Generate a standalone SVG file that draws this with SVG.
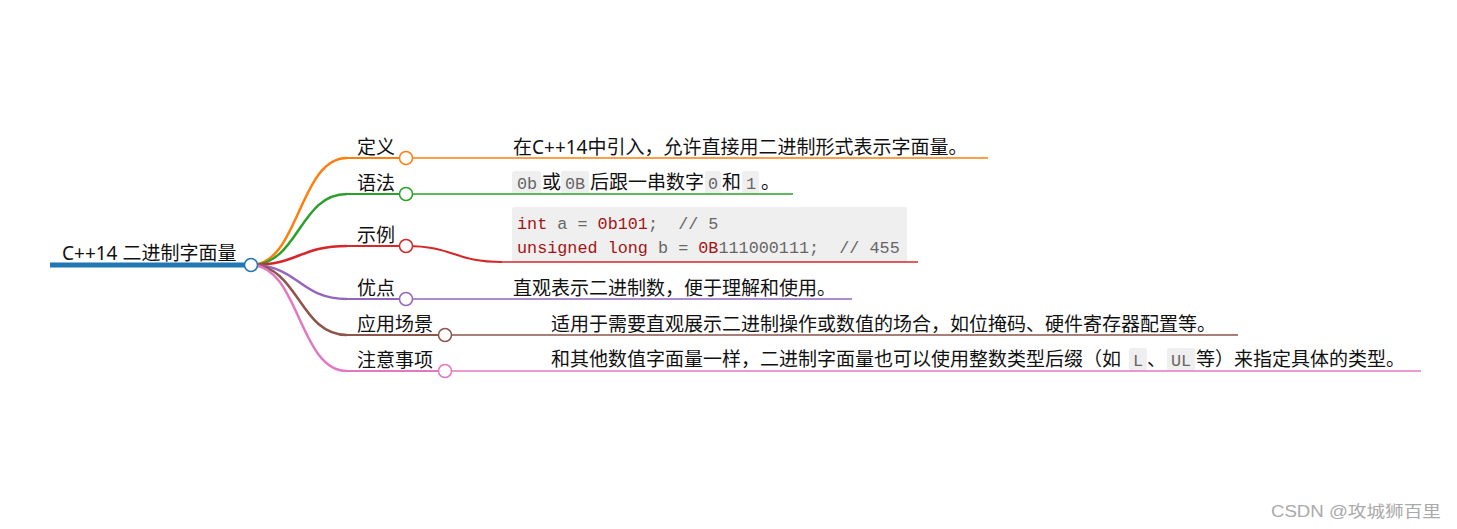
<svg xmlns="http://www.w3.org/2000/svg" width="1457" height="529" viewBox="0 0 1457 529">
<style>
text{font-family:"Noto Sans","Noto Sans CJK SC",sans-serif;font-size:19px;fill:#111}
.code{font-family:"Liberation Mono","DejaVu Sans Mono",monospace;font-size:16.8px;fill:#666}
.kw{fill:#a31515}
.box{fill:#efefef}
.link{fill:none;stroke-width:2.5}
.ul{fill:none;stroke-width:2}
.ul2{fill:none;stroke-width:1.5}
.dot{fill:#fff;stroke-width:1.5}
.wm{font-family:"Liberation Sans","Noto Sans CJK SC",sans-serif;font-size:16px;fill:#aaa}
</style>
<rect width="1457" height="529" fill="#fff"/>
<g id="connectors">
  <path class="link" stroke="#ff7f0e" d="M251,265 C299,265 299,158 347,158"/>
  <path class="link" stroke="#2ca02c" d="M251,265 C299,265 299,194 347,194"/>
  <path class="link" stroke="#d62728" d="M251,265 C299,265 299,246 347,246"/>
  <path class="link" stroke="#9467bd" d="M251,265 C299,265 299,299 347,299"/>
  <path class="link" stroke="#8c564b" d="M251,265 C299,265 299,335 347,335"/>
  <path class="link" stroke="#e377c2" d="M251,265 C299,265 299,371 347,371"/>
  <path class="ul2" stroke="#ff7f0e" d="M406,158 L502,158"/>
  <path class="ul2" stroke="#2ca02c" d="M406,194 L502,194"/>
  <path class="link" style="stroke-width:2" stroke="#d62728" d="M406,246 C454,246 454,262 502,262"/>
  <path class="ul2" stroke="#9467bd" d="M406,299 L502,299"/>
  <path class="ul2" stroke="#8c564b" d="M445,335 L541,335"/>
  <path class="ul2" stroke="#e377c2" d="M445,371 L541,371"/>
</g>
<g id="root">
  <line x1="50" y1="265" x2="251" y2="265" stroke="#1f77b4" stroke-width="5"/>
  <text x="62" y="260">C++14 二进制字面量</text>
  <circle class="dot" cx="251" cy="265" r="6.5" stroke="#1f77b4"/>
</g>
<g id="n-def">
  <line class="ul" x1="347" y1="158" x2="406" y2="158" stroke="#ff7f0e"/>
  <text x="357" y="154">定义</text>
  <circle class="dot" cx="406" cy="158" r="6.5" stroke="#ff7f0e"/>
</g>
<g id="n-def-1">
  <line class="ul2" x1="502" y1="158" x2="988" y2="158" stroke="#ff7f0e"/>
  <text x="513" y="154">在C++14中引入，允许直接用二进制形式表示字面量。</text>
</g>
<g id="n-syn">
  <line class="ul" x1="347" y1="194" x2="406" y2="194" stroke="#2ca02c"/>
  <text x="357" y="190">语法</text>
  <circle class="dot" cx="406" cy="194" r="6.5" stroke="#2ca02c"/>
</g>
<g id="n-syn-1">
  <rect class="box" x="512" y="171" width="29" height="23" rx="2"/>
  <rect class="box" x="561" y="171" width="28" height="23" rx="2"/>
  <rect class="box" x="705" y="171" width="16" height="23" rx="2"/>
  <rect class="box" x="742" y="171" width="17" height="23" rx="2"/>
  <line class="ul2" x1="502" y1="194" x2="793" y2="194" stroke="#2ca02c"/>
  <text class="code" x="517" y="189">0b</text>
  <text x="542" y="189">或</text>
  <text class="code" x="565" y="189">0B</text>
  <text x="590" y="189">后跟一串数字</text>
  <text class="code" x="708" y="189">0</text>
  <text x="722" y="189">和</text>
  <text class="code" x="746" y="189">1</text>
  <text x="761" y="189">。</text>
</g>
<g id="n-ex">
  <line class="ul" x1="347" y1="246" x2="406" y2="246" stroke="#d62728"/>
  <text x="357" y="242">示例</text>
  <circle class="dot" cx="406" cy="246" r="6.5" stroke="#d62728"/>
</g>
<g id="n-ex-1">
  <rect class="box" x="512" y="207" width="395" height="55" rx="2"/>
  <line class="ul2" x1="502" y1="262" x2="918" y2="262" stroke="#d62728"/>
  <text class="code" x="517" y="229" xml:space="preserve"><tspan class="kw">int</tspan> a = <tspan class="kw">0b101</tspan>;  // 5</text>
  <text class="code" x="517" y="253" xml:space="preserve"><tspan class="kw">unsigned long</tspan> b = <tspan class="kw">0B</tspan>111000111;  // 455</text>
</g>
<g id="n-adv">
  <line class="ul" x1="347" y1="299" x2="406" y2="299" stroke="#9467bd"/>
  <text x="357" y="295">优点</text>
  <circle class="dot" cx="406" cy="299" r="6.5" stroke="#9467bd"/>
</g>
<g id="n-adv-1">
  <line class="ul2" x1="502" y1="299" x2="852" y2="299" stroke="#9467bd"/>
  <text x="513" y="295">直观表示二进制数，便于理解和使用。</text>
</g>
<g id="n-app">
  <line class="ul" x1="347" y1="335" x2="445" y2="335" stroke="#8c564b"/>
  <text x="357" y="331">应用场景</text>
  <circle class="dot" cx="445" cy="335" r="6.5" stroke="#8c564b"/>
</g>
<g id="n-app-1">
  <line class="ul2" x1="541" y1="335" x2="1238" y2="335" stroke="#8c564b"/>
  <text x="551" y="331">适用于需要直观展示二进制操作或数值的场合，如位掩码、硬件寄存器配置等。</text>
</g>
<g id="n-note">
  <line class="ul" x1="347" y1="371" x2="445" y2="371" stroke="#e377c2"/>
  <text x="357" y="367">注意事项</text>
  <circle class="dot" cx="445" cy="371" r="6.5" stroke="#e377c2"/>
</g>
<g id="n-note-1">
  <rect class="box" x="1129" y="348" width="18" height="23" rx="2"/>
  <rect class="box" x="1167" y="348" width="28" height="23" rx="2"/>
  <line class="ul2" x1="541" y1="371" x2="1421" y2="371" stroke="#e377c2"/>
  <text x="551" y="366">和其他数值字面量一样，二进制字面量也可以使用整数类型后缀（如</text>
  <text class="code" x="1133" y="366">L</text>
  <text x="1147" y="366">、</text>
  <text class="code" x="1171" y="366">UL</text>
  <text x="1196" y="366">等）来指定具体的类型。</text>
</g>
<text class="wm" x="1271" y="517" textLength="170" lengthAdjust="spacingAndGlyphs">CSDN @攻城狮百里</text>
</svg>
